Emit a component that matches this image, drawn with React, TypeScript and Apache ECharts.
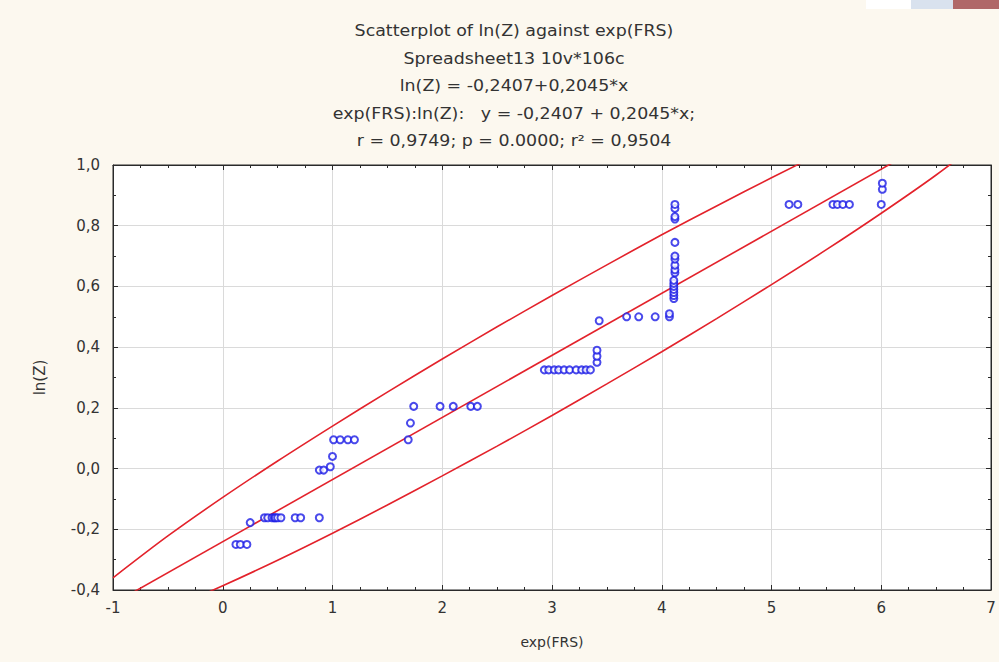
import React, { useEffect, useRef } from "react";
import * as echarts from "echarts";

// ---- data ----
const frsX = [
  0.12, 0.16, 0.22,
  0.25,
  0.38, 0.41, 0.45, 0.47, 0.48, 0.5, 0.53, 0.66, 0.71, 0.88,
  0.88, 0.92, 0.98, 1.0,
  1.01, 1.07, 1.14, 1.2,
  1.69, 1.71, 1.74, 1.98, 2.1, 2.26, 2.32,
  2.93, 2.97, 3.02, 3.06, 3.11, 3.16, 3.22, 3.27, 3.31, 3.35,
  3.41, 3.41, 3.41,
  3.43, 3.68, 3.79, 3.94, 4.07, 4.07,
  4.11, 4.11, 4.11, 4.11, 4.11, 4.11, 4.11, 4.12, 4.12, 4.12, 4.12, 4.12, 4.12, 4.12, 4.12, 4.12, 4.12,
  5.16, 5.24, 5.56, 5.6, 5.65, 5.71, 6.0, 6.01, 6.01,
];
const lnZ = [
  -0.25, -0.25, -0.25,
  -0.178,
  -0.162, -0.162, -0.162, -0.162, -0.162, -0.162, -0.162, -0.162, -0.162, -0.162,
  -0.005, -0.005, 0.006, 0.04,
  0.095, 0.095, 0.095, 0.095,
  0.095, 0.15, 0.205, 0.205, 0.205, 0.205, 0.205,
  0.325, 0.325, 0.325, 0.325, 0.325, 0.325, 0.325, 0.325, 0.325, 0.325,
  0.35, 0.37, 0.39,
  0.487, 0.5, 0.5, 0.5, 0.5, 0.51,
  0.56, 0.57, 0.58, 0.59, 0.6, 0.61, 0.62, 0.645, 0.655, 0.67, 0.69, 0.7, 0.745, 0.822, 0.83, 0.857, 0.87,
  0.87, 0.87, 0.87, 0.87, 0.87, 0.87, 0.87, 0.92, 0.94,
];

// regression line y = -0.2407 + 0.2045*x, at the axis ends
const fitX = [-1, 7];
const fitY = [-0.4452, 1.1908];

// regression bands
const bandX = [-1, -0.5, 0, 0.5, 1, 1.5, 2, 2.5, 3, 3.5, 4, 4.5, 5, 5.5, 6, 6.5, 7];
const bandUpper = [-0.36, -0.222, -0.095, 0.025, 0.14, 0.252, 0.361, 0.467, 0.57, 0.671, 0.77, 0.865, 0.958, 1.047, 1.132, 1.21, 1.276];
const bandLower = [-0.531, -0.464, -0.386, -0.302, -0.213, -0.12, -0.024, 0.074, 0.175, 0.279, 0.385, 0.494, 0.606, 0.721, 0.841, 0.967, 1.105];

const titleLines = [
  "Scatterplot of ln(Z) against exp(FRS)",
  "Spreadsheet13 10v*106c",
  "ln(Z) = -0,2407+0,2045*x",
  "exp(FRS):ln(Z):   y = -0,2407 + 0,2045*x;",
  "r = 0,9749; p = 0.0000; r² = 0,9504",
];

const xTicks = { min: -1, max: 7, interval: 1 };
const yTicks = { min: -0.4, max: 1.0, interval: 0.2 };

const FONT = "DejaVu Sans";
const RED = "#e3222b";
const BLUE = "#1c1ce6";

function fmtY(v: number) {
  const n = Math.abs(v) < 1e-9 ? 0 : v;
  return n.toFixed(1).replace(".", ",");
}

export default function App() {
  const ref = useRef<HTMLDivElement>(null);
  useEffect(() => {
    document.body.style.margin = "0";
    const chart = echarts.init(ref.current!, null, { renderer: "svg" });
    const tickCommon = {
      axisLine: { show: true, onZero: false, lineStyle: { color: "#2a2a2a", width: 1 } },
      axisTick: { show: true, inside: true, length: 5, lineStyle: { color: "#2a2a2a" } },
    };
    const option: any = {
      animation: false,
      backgroundColor: "#fcf8ef",
      graphic: [
        { type: "rect", shape: { x: 866, y: 0, width: 45, height: 9 }, style: { fill: "#ffffff" } },
        { type: "rect", shape: { x: 911, y: 0, width: 42, height: 9 }, style: { fill: "#d9e2ee" } },
        { type: "rect", shape: { x: 953, y: 0, width: 46, height: 9 }, style: { fill: "#b06868" } },
        ...titleLines.map((t, i) => ({
          type: "text",
          x: 514,
          y: 31 + i * 27.6,
          scaleX: 1.16,
          style: {
            text: t,
            textAlign: "center",
            textVerticalAlign: "middle",
            fontSize: 15,
            fontFamily: FONT,
            fill: "#333333",
          },
        })),
      ],
      grid: {
        left: 113,
        right: 8,
        top: 165,
        bottom: 72,
        show: true,
        backgroundColor: "#ffffff",
        borderColor: "#2a2a2a",
        borderWidth: 1,
      },
      xAxis: [
        {
          type: "value",
          ...xTicks,
          position: "bottom",
          ...tickCommon,
          minorTick: { show: true, splitNumber: 4, length: 3, lineStyle: { color: "#2a2a2a" } },
          splitLine: { show: true, lineStyle: { color: "#dadada", width: 1 } },
          axisLabel: { margin: 10, fontSize: 15, fontFamily: FONT, color: "#333" },
          name: "exp(FRS)",
          nameLocation: "middle",
          nameGap: 45,
          nameTextStyle: { fontSize: 14, fontFamily: FONT, color: "#333" },
        },
        {
          type: "value",
          ...xTicks,
          position: "top",
          ...tickCommon,
          minorTick: { show: true, splitNumber: 4, length: 3, lineStyle: { color: "#2a2a2a" } },
          splitLine: { show: false },
          axisLabel: { show: false },
        },
      ],
      yAxis: [
        {
          type: "value",
          ...yTicks,
          position: "left",
          ...tickCommon,
          minorTick: { show: true, splitNumber: 2, length: 3, lineStyle: { color: "#2a2a2a" } },
          splitLine: { show: true, lineStyle: { color: "#dadada", width: 1 } },
          axisLabel: { margin: 13, fontSize: 15, fontFamily: FONT, color: "#333", formatter: fmtY },
          name: "ln(Z)",
          nameLocation: "middle",
          nameGap: 66,
          nameTextStyle: { fontSize: 15, fontFamily: FONT, color: "#333" },
        },
        {
          type: "value",
          ...yTicks,
          position: "right",
          ...tickCommon,
          minorTick: { show: true, splitNumber: 2, length: 3, lineStyle: { color: "#2a2a2a" } },
          splitLine: { show: false },
          axisLabel: { show: false },
        },
      ],
      series: [
        {
          type: "line",
          data: bandX.map((x, i) => [x, bandUpper[i]]),
          smooth: 0.3,
          symbol: "none",
          clip: true,
          lineStyle: { color: RED, width: 1.6 },
          z: 2,
        },
        {
          type: "line",
          data: bandX.map((x, i) => [x, bandLower[i]]),
          smooth: 0.3,
          symbol: "none",
          clip: true,
          lineStyle: { color: RED, width: 1.6 },
          z: 2,
        },
        {
          type: "line",
          data: fitX.map((x, i) => [x, fitY[i]]),
          symbol: "none",
          clip: true,
          lineStyle: { color: RED, width: 1.6 },
          z: 2,
        },
        {
          type: "scatter",
          data: frsX.map((x, i) => [x, lnZ[i]]),
          symbol: "emptyCircle",
          symbolSize: 7,
          itemStyle: { color: BLUE, borderColor: BLUE, borderWidth: 1.6 },
          z: 3,
        },
      ],
    };
    chart.setOption(option);
    return () => chart.dispose();
  }, []);
  return <div ref={ref} style={{ width: 999, height: 662 }} />;
}
